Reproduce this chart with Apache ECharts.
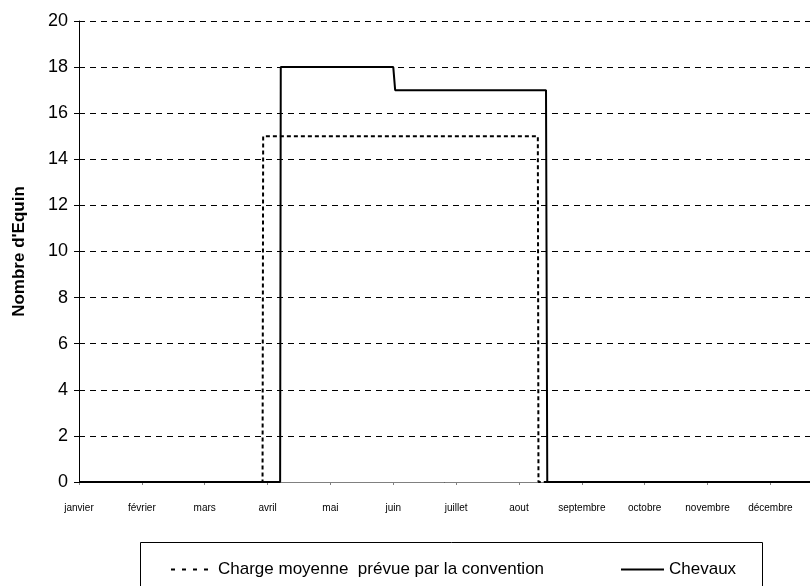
<!DOCTYPE html>
<html>
<head>
<meta charset="utf-8">
<script src="https://cdn.jsdelivr.net/npm/echarts@6/dist/echarts.min.js"></script>
<style>html,body{margin:0;padding:0;background:#fff}#c{width:810px;height:586px}</style>
</head>
<body>
<div id="c"></div>
<script>
// Month labels (x positions in month units: 0 = janvier ... 11 = décembre)
var months = ['janvier','février','mars','avril','mai','juin','juillet','aout','septembre','octobre','novembre','décembre'];
var monthIdx = [0,1,2,3,4,5,6,7,8,9,10,11];
var yTicks = [0,2,4,6,8,10,12,14,16,18,20];

// "Charge moyenne prévue par la convention" (dotted)
var chargeX = [0, 2.92, 2.93, 7.30, 7.31, 12];
var chargeY = [0, 0, 15, 15, 0, 0];

// "Chevaux" (solid)
var chevauxX = [0, 3.20, 3.21, 5.00, 5.03, 7.43, 7.45, 12];
var chevauxY = [0, 0, 18, 18, 17, 17, 0, 0];

function pairs(xs, ys){ return xs.map(function(x,i){ return [x, ys[i]]; }); }

var FONT = "'Liberation Sans', Arial, sans-serif";
var chart = echarts.init(document.getElementById('c'), null, {renderer:'canvas'});
chart.setOption({
  animation: false,
  backgroundColor: '#fff',
  grid: { left: 79, top: 21, right: 0, height: 461, containLabel: false },
  xAxis: {
    type: 'value', min: 0, max: 11.63,
    axisLine: { show: true, lineStyle: { color: '#808080', width: 1 } },
    axisTick: { show: true, length: 3, customValues: monthIdx, lineStyle: { color: '#808080' } },
    splitLine: { show: false },
    axisLabel: {
      margin: 21, fontSize: 10, color: '#000', fontFamily: FONT, customValues: monthIdx,
      formatter: function(v){ return months[Math.round(v)] || ''; }
    }
  },
  yAxis: {
    type: 'value', min: yTicks[0], max: yTicks[yTicks.length-1], interval: 2,
    name: "Nombre d'Equin", nameLocation: 'middle', nameGap: 51, nameRotate: 90,
    nameTextStyle: { fontSize: 17, fontWeight: 'bold', color: '#000', fontFamily: FONT },
    axisLine: { show: true, lineStyle: { color: '#000', width: 1 } },
    axisTick: { show: true, length: 5, lineStyle: { color: '#000' } },
    splitLine: { show: true, lineStyle: { color: '#000', width: 1, type: [6,5] } },
    axisLabel: { margin: 11, fontSize: 18, color: '#000', fontFamily: FONT }
  },
  legend: [
    { data: ['Charge moyenne  prévue par la convention'], left: 170, top: 561, padding: 0,
      itemWidth: 38, itemHeight: 14, itemStyle: { opacity: 0 },
      lineStyle: { color: '#000', width: 2, type: [4,7] },
      textStyle: { fontSize: 17, color: '#000', fontFamily: FONT, padding: [0,0,0,4] } },
    { data: ['Chevaux'], left: 620, top: 561, padding: 0,
      itemWidth: 43, itemHeight: 14, itemStyle: { opacity: 0 },
      textStyle: { fontSize: 17, color: '#000', fontFamily: FONT } }
  ],
  graphic: [
    { type: 'rect', shape: { x: 140.5, y: 542.5, width: 622, height: 80 },
      style: { fill: 'none', stroke: '#000', lineWidth: 1 }, z: 1 }
  ],
  series: [
    { name: 'Charge moyenne  prévue par la convention', type: 'line', data: pairs(chargeX, chargeY),
      showSymbol: false, symbol: 'none',
      lineStyle: { color: '#000', width: 2, type: [4,3] }, itemStyle: { color: '#000' } },
    { name: 'Chevaux', type: 'line', data: pairs(chevauxX, chevauxY),
      showSymbol: false, symbol: 'none',
      lineStyle: { color: '#000', width: 2, type: 'solid' }, itemStyle: { color: '#000' } }
  ]
});
</script>
</body>
</html>
